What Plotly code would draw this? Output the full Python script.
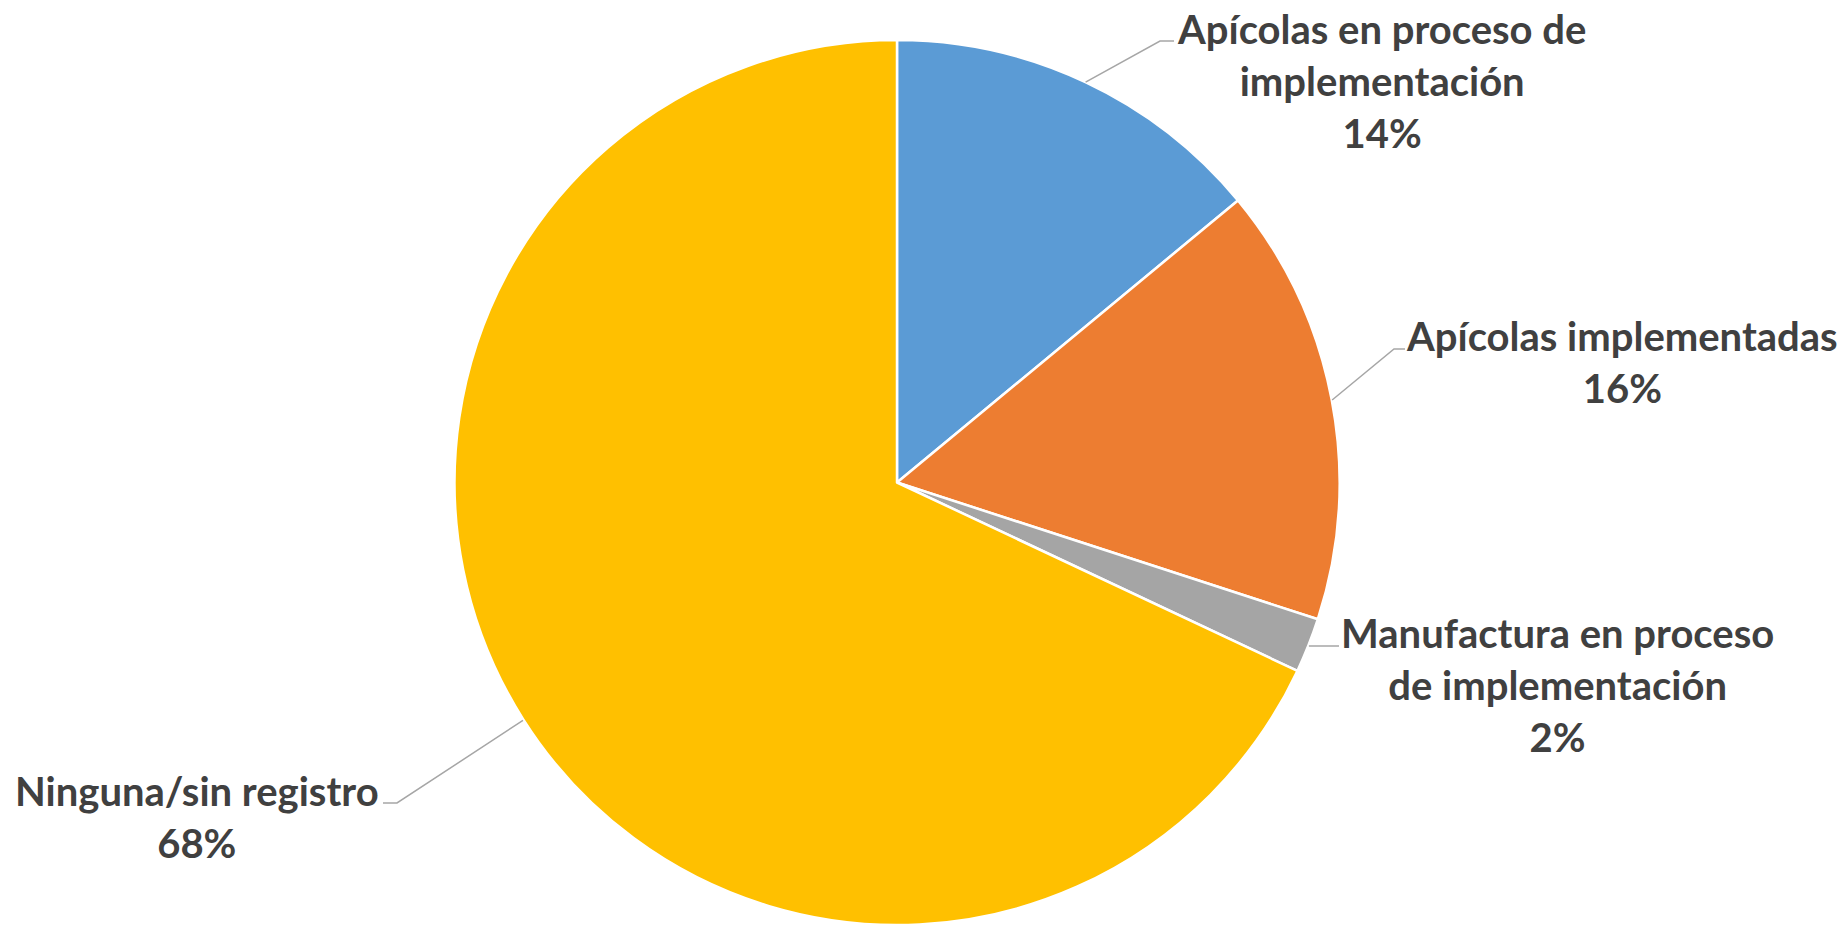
import math
import plotly.graph_objects as go

# ---- data ----
categories = [
    "Apícolas en proceso de implementación",
    "Apícolas implementadas",
    "Manufactura en proceso de implementación",
    "Ninguna/sin registro",
]
label_lines = [
    "Apícolas en proceso de<br>implementación",
    "Apícolas implementadas",
    "Manufactura en proceso<br>de implementación",
    "Ninguna/sin registro",
]
values = [14, 16, 2, 68]
colors = ["#5B9BD5", "#ED7D31", "#A5A5A5", "#FFC000"]

# ---- layout constants (pixels) ----
W, H = 1847, 925
CX, CY, R = 897, 483, 443
# label block centres and leader elbow / end points
label_pos = [(1381, 81), (1622, 362), (1557, 685), (197, 817)]
elbows = [((1160, 41), (1174, 41)),
          ((1394, 349), (1405, 349)),
          ((1326, 646), (1339, 646)),
          ((397, 803), (383, 803))]
FONT = "Lato"
FSIZE = 40
TXT = "#404040"


def px(x):
    return x / W


def py(y):
    return 1 - y / H


fig = go.Figure()
fig.add_trace(go.Pie(
    labels=categories,
    values=values,
    sort=False,
    direction="clockwise",
    rotation=0,
    marker=dict(colors=colors, line=dict(color="white", width=2.5)),
    textinfo="none",
    hoverinfo="label+percent",
    showlegend=False,
    domain=dict(x=[px(CX - R), px(CX + R)], y=[max(0, py(CY + R)), py(CY - R)]),
))

total = sum(values)
shapes = []
annotations = []
cum = 0
for i, v in enumerate(values):
    mid = (cum + v / 2) / total * 2 * math.pi
    cum += v
    sx = CX + R * math.sin(mid)
    sy = CY - R * math.cos(mid)
    (ex, ey), (fx, fy) = elbows[i]
    shapes.append(dict(
        type="path", xref="paper", yref="paper",
        path=f"M {px(sx)},{py(sy)} L {px(ex)},{py(ey)} L {px(fx)},{py(fy)}",
        line=dict(color="#A6A6A6", width=1.5),
    ))
    pct = round(v / total * 100)
    lx, ly = label_pos[i]
    annotations.append(dict(
        x=px(lx), y=py(ly), xref="paper", yref="paper",
        xanchor="center", yanchor="middle", showarrow=False, align="center",
        text=f"<b>{label_lines[i]}<br>{pct}%</b>",
        font=dict(family=FONT, size=FSIZE, color=TXT),
    ))

fig.update_layout(
    width=W, height=H,
    margin=dict(l=0, r=0, t=0, b=0),
    paper_bgcolor="white", plot_bgcolor="white",
    shapes=shapes, annotations=annotations,
)
fig.write_html(
    "out.html",
    config={"displayModeBar": False},
    post_script="document.body.style.margin='0';document.body.style.overflow='hidden';",
)
